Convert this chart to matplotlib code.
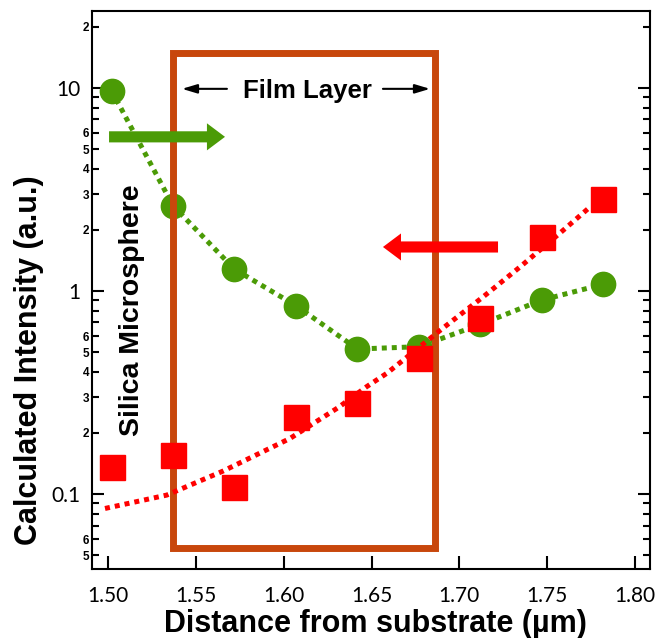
import matplotlib
matplotlib.use("Agg")
import matplotlib.pyplot as plt
from matplotlib.patches import Rectangle
from matplotlib.ticker import FixedLocator, FixedFormatter

# ---------------- data ----------------
distance = [1.502, 1.537, 1.572, 1.607, 1.642, 1.677, 1.712, 1.747, 1.782]
green_intensity = [9.70, 2.63, 1.28, 0.847, 0.518, 0.532, 0.685, 0.903, 1.08]
red_intensity = [0.136, 0.156, 0.1086, 0.240, 0.280, 0.466, 0.734, 1.85, 2.83]

red_fit_x = [1.4983, 1.5334, 1.5656, 1.6036, 1.6311, 1.6472, 1.6588,
             1.6907, 1.7134, 1.7345, 1.7573, 1.7732]
red_fit_y = [0.0850, 0.0989, 0.130, 0.188, 0.267, 0.338, 0.394,
             0.657, 0.934, 1.313, 1.93, 2.54]

x_ticks = [1.50, 1.55, 1.60, 1.65, 1.70, 1.75, 1.80]
x_tick_labels = ["1.50", "1.55", "1.60", "1.65", "1.70", "1.75", "1.80"]
y_major_ticks = [0.1, 1, 10]
y_major_labels = ["0.1", "1", "10"]
y_minor_ticks = [0.05, 0.06, 0.07, 0.08, 0.09,
                 0.2, 0.3, 0.4, 0.5, 0.6, 0.7, 0.8, 0.9,
                 2, 3, 4, 5, 6, 7, 8, 9, 20]
y_minor_labels = ["5", "6", "", "", "",
                  "2", "3", "4", "5", "6", "", "", "",
                  "2", "3", "4", "5", "6", "", "", "", "2"]

# ---------------- style ----------------
GREEN = "#4B9B06"
RED = "#FF0000"
BOX = "#C8470C"
LABEL_FONT = ["Liberation Sans", "DejaVu Sans"]
TICK_FONT = ["Lato", "DejaVu Sans"]

W, H = 655, 638
fig = plt.figure(figsize=(W / 100, H / 100), dpi=100)
ax = fig.add_axes([92 / W, 1 - 569 / H, 558 / W, 558 / H])

ax.set_yscale("log")
ax.set_xlim(1.4909, 1.8085)
ax.set_ylim(0.0428, 23.9)

# lines and markers
ax.plot(distance, green_intensity, color=GREEN, lw=3.6, ls=(0, (1, 1)),
        dash_capstyle="butt", zorder=2)
ax.plot(distance, green_intensity, ls="none", marker="o", ms=17.5,
        color=GREEN, mec=GREEN, zorder=3)

box = Rectangle((1.537, 0.0542), 1.6861 - 1.537, 14.87 - 0.0542,
                fill=False, ec=BOX, lw=5, joinstyle="miter", zorder=4)
ax.add_patch(box)

ax.plot(red_fit_x, red_fit_y, color=RED, lw=3.6, ls=(0, (1, 1)),
        dash_capstyle="butt", zorder=5)
ax.plot(distance, red_intensity, ls="none", marker="s", ms=18,
        color=RED, mec=RED, zorder=6)

# big arrows
ax.annotate("", xy=(1.5666, 5.74), xytext=(1.5006, 5.74),
            arrowprops=dict(arrowstyle="simple,head_length=1.3,head_width=1.95,tail_width=0.8",
                            color=GREEN, lw=0, shrinkA=0, shrinkB=0, mutation_scale=10),
            zorder=7)
ax.annotate("", xy=(1.6565, 1.647), xytext=(1.722, 1.647),
            arrowprops=dict(arrowstyle="simple,head_length=1.3,head_width=1.95,tail_width=0.8",
                            color=RED, lw=0, shrinkA=0, shrinkB=0, mutation_scale=10),
            zorder=7)

# film layer arrows and text
ax.annotate("", xy=(1.5421, 9.89), xytext=(1.5677, 9.89),
            arrowprops=dict(arrowstyle="-|>,head_length=0.6,head_width=0.18",
                            color="black", lw=1.5, shrinkA=0, shrinkB=0, mutation_scale=15),
            zorder=7)
ax.annotate("", xy=(1.6833, 9.89), xytext=(1.6565, 9.89),
            arrowprops=dict(arrowstyle="-|>,head_length=0.6,head_width=0.18",
                            color="black", lw=1.5, shrinkA=0, shrinkB=0, mutation_scale=15),
            zorder=7)
ax.text(1.6133, 9.67, "Film Layer", ha="center", va="center", fontsize=18.5,
        fontweight="bold", family=LABEL_FONT, zorder=8)

fig.text(132 / W, 1 - 310 / H, "Silica Microsphere", rotation=90, ha="center",
         va="center", fontsize=20.5, fontweight="bold", family=LABEL_FONT)

# axis labels
fig.text(29 / W, 1 - 360 / H, "Calculated Intensity (a.u.)", rotation=90,
         ha="center", va="center", fontsize=22, fontweight="bold", family=LABEL_FONT)
fig.text(375 / W, 1 - 632 / H, "Distance from substrate (µm)", ha="center",
         va="baseline", fontsize=22, fontweight="bold", family=LABEL_FONT)

# ticks
ax.set_xticks(x_ticks)
ax.set_xticklabels(x_tick_labels)
ax.yaxis.set_major_locator(FixedLocator(y_major_ticks))
ax.yaxis.set_major_formatter(FixedFormatter(y_major_labels))
ax.yaxis.set_minor_locator(FixedLocator(y_minor_ticks))
ax.yaxis.set_minor_formatter(FixedFormatter(y_minor_labels))

ax.tick_params(axis="x", which="major", direction="in", length=9.4, width=1.5,
               pad=12.5, labelsize=15, top=False, labelfontfamily=TICK_FONT[0])
ax.tick_params(axis="x", which="minor", bottom=False, top=False)
ax.tick_params(axis="y", which="major", direction="in", length=8.6, width=1.5,
               pad=8.6, labelsize=15, right=True, labelfontfamily=TICK_FONT[0])
ax.tick_params(axis="y", which="minor", direction="in", length=5, width=1.5,
               pad=2, labelsize=8.5, right=True, labelfontfamily=LABEL_FONT[0])
plt.setp(ax.get_yticklabels(minor=True), fontweight="bold")

for s in ax.spines.values():
    s.set_linewidth(1.5)

fig.savefig("out.png", dpi=100)
